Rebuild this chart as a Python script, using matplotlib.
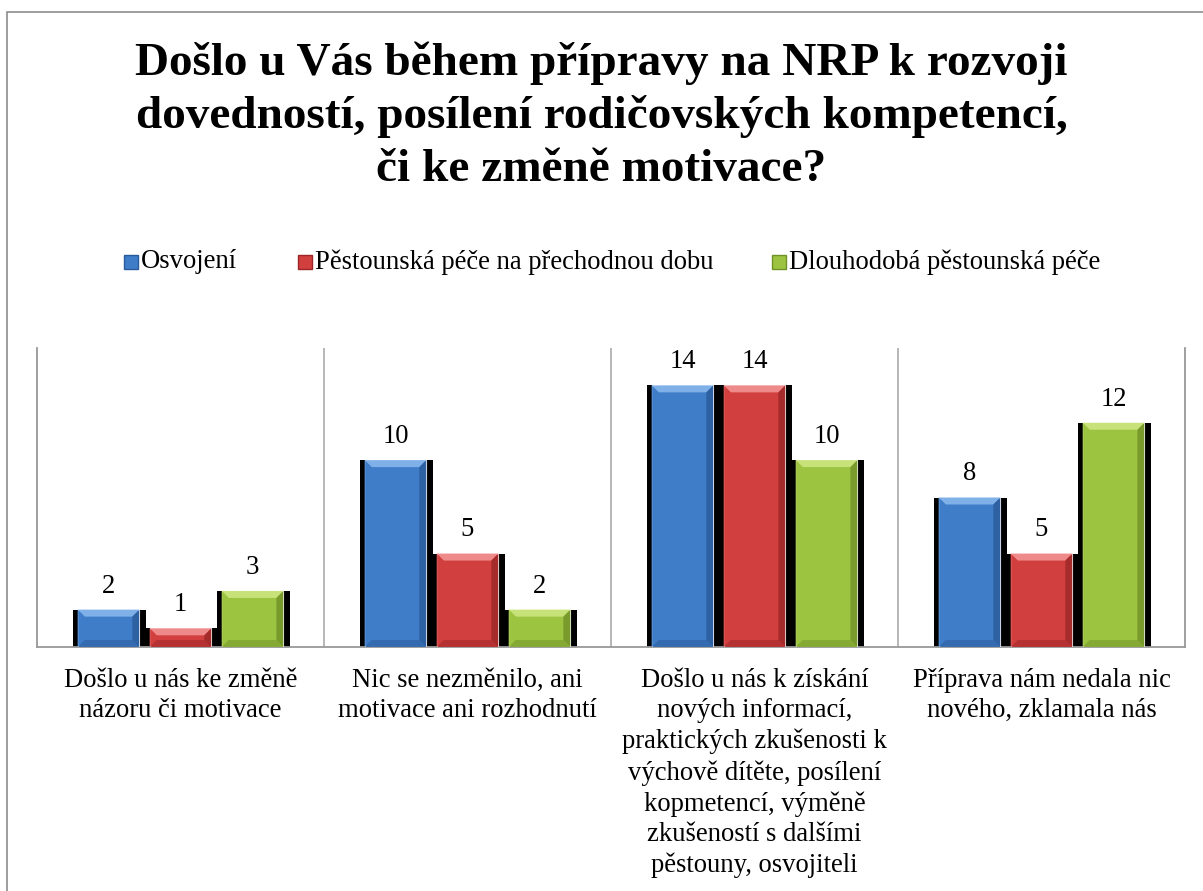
import numpy as np
import matplotlib
matplotlib.use('Agg')
import matplotlib.pyplot as plt
from matplotlib.patches import Rectangle, Polygon

plt.rcParams['font.family'] = ['Liberation Serif', 'DejaVu Serif']

title = ('Došlo u Vás během přípravy na NRP k rozvoji\n'
         'dovedností, posílení rodičovských kompetencí,\n'
         'či ke změně motivace?')

categories = [
    'Došlo u nás ke změně\nnázoru či motivace',
    'Nic se nezměnilo, ani\nmotivace ani rozhodnutí',
    'Došlo u nás k získání\nnových informací,\npraktických zkušenosti k\nvýchově dítěte, posílení\nkopmetencí, výměně\nzkušeností s dalšími\npěstouny, osvojiteli',
    'Příprava nám nedala nic\nnového, zklamala nás',
]
series_names = ['Osvojení', 'Pěstounská péče na přechodnou dobu', 'Dlouhodobá pěstounská péče']
osvojeni = [2, 10, 14, 8]
prechodna = [1, 5, 14, 5]
dlouhodoba = [3, 2, 10, 12]

# main, light, dark
colors = [('#3f7dc9', '#7fb0e8', '#2a5a99'),
          ('#d23f3f', '#ef8a8a', '#9c2626'),
          ('#9cc440', '#c8e27a', '#6f9128')]

W, H = 1203, 891
fig = plt.figure(figsize=(W / 100, H / 100), dpi=100)

# chart frame (runs off the right / bottom edge)
fig.patches.append(Rectangle((7 / W, -0.1), 1.2, 1 - 12 / H + 0.1,
                             transform=fig.transFigure, fill=False,
                             edgecolor='#8c8c8c', lw=1.2))

ax = fig.add_axes([37 / W, (H - 647) / H, 1148 / W, 299 / H])
ax.set_xlim(-0.5, 3.5)
ax.set_ylim(0, 16)
ax.set_xticks([])
ax.set_yticks([])
ax.spines['top'].set_visible(False)
for s in ['left', 'right', 'bottom']:
    ax.spines[s].set_color('#999999')
    ax.spines[s].set_linewidth(1.3)
for xs in [0.5, 1.5, 2.5]:
    ax.axvline(xs, color='#aaaaaa', lw=1.2, zorder=1)

width = 0.215
offsets = [-0.251, 0, 0.251]
x = np.arange(len(categories))
bx = 7 / 287.0
by_unit = 7 / 18.7

for si, vals in enumerate([osvojeni, prechodna, dlouhodoba]):
    main, light, dark = colors[si]
    for xi, v in zip(x, vals):
        left = xi + offsets[si] - width / 2
        right = left + width
        # black shadow
        ax.add_patch(Rectangle((left - 0.016, 0), width + 0.04, v,
                               facecolor='black', edgecolor='none', zorder=2))
        ax.add_patch(Rectangle((left, 0), width, v, facecolor=main,
                               edgecolor='white', lw=0.8, zorder=3))
        by = min(by_unit, v / 2)
        # bevel: top, left, right, bottom
        ax.add_patch(Polygon([(left, v), (right, v), (right - bx, v - by), (left + bx, v - by)],
                             closed=True, facecolor=light, edgecolor='none', zorder=4))
        ax.add_patch(Polygon([(left, v), (left + bx, v - by), (left + bx, by), (left, 0)],
                             closed=True, facecolor=main, edgecolor='none', alpha=0.9, zorder=4))
        ax.add_patch(Polygon([(right, v), (right - bx, v - by), (right - bx, by), (right, 0)],
                             closed=True, facecolor=dark, edgecolor='none', alpha=0.8, zorder=4))
        ax.add_patch(Polygon([(left, 0), (right, 0), (right - bx, by), (left + bx, by)],
                             closed=True, facecolor=dark, edgecolor='none', alpha=0.5, zorder=4))
        ax.annotate(str(v), (xi + offsets[si], v), xytext=(0, 8), textcoords='offset points',
                    ha='center', va='bottom', fontsize=19.2, color='black', zorder=5)

for xi, lab in zip(x, categories):
    ax.annotate(lab, (xi, 0), xycoords=('data', 'axes fraction'), xytext=(0, -15),
                textcoords='offset points', ha='center', va='top', fontsize=19.2,
                linespacing=1.29, annotation_clip=False)

fig.text(0.5, 1 - 116 / H, title, ha='center', va='center', fontsize=34,
         fontweight='bold', linespacing=1.33)

# legend
leg_x = [124, 298, 772]
leg_y = 262
for (main, light, dark), lx, name in zip(colors, leg_x, series_names):
    fig.patches.append(Rectangle((lx / W, (H - leg_y - 7) / H), 14 / W, 14 / H,
                                 transform=fig.transFigure, facecolor=main,
                                 edgecolor=dark, lw=1))
    fig.text((lx + 17) / W, (H - leg_y) / H, name, ha='left', va='center', fontsize=19.2)

fig.savefig('out.png', dpi=100)
